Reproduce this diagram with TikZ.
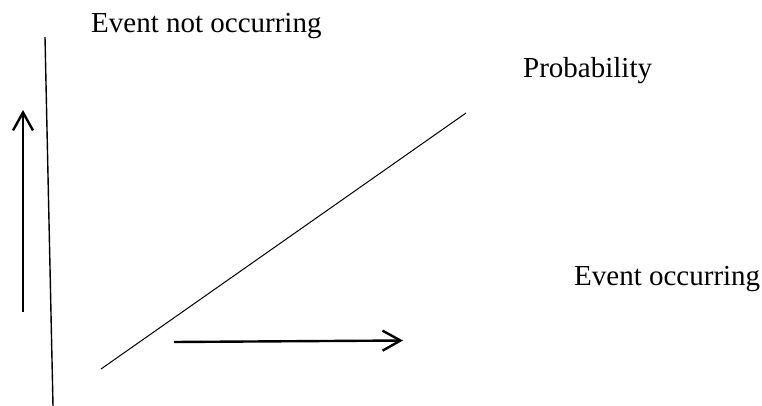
\documentclass[tikz,border=0pt]{standalone}
\usepackage{fontspec}
\setmainfont{Liberation Serif}
\usetikzlibrary{arrows.meta}
\begin{document}
\begin{tikzpicture}[x=1pt,y=-1pt,
  lbl/.style={anchor=base west,inner sep=0pt,font=\fontsize{29}{35}\selectfont},
  arr/.style={line width=2.4pt,-{Straight Barb[length=18pt,width=20pt,line width=2.4pt]}},
  thin line/.style={line width=1pt}]
\useasboundingbox (0,0) rectangle (762,406);
\node[lbl] (t1) at (91,33) {Event not occurring};
\node[lbl] (t2) at (523,78) {Probability};
\node[lbl] (t3) at (574,285) {Event occurring};
\coordinate (vt) at (45,37);
\coordinate (vb) at (53,406);
\coordinate (ub) at (23,312);
\coordinate (ut) at (23,110);
\coordinate (hs) at (174,342);
\coordinate (he) at (403,340.5);
\coordinate (ds) at (101,369);
\coordinate (de) at (466,113);
\draw[line width=1.4pt] (vt) -- (vb);
\draw[arr] (ub) -- (ut);
\draw[arr] (hs) -- (he);
\draw[thin line] (ds) -- (de);
\end{tikzpicture}
\end{document}
